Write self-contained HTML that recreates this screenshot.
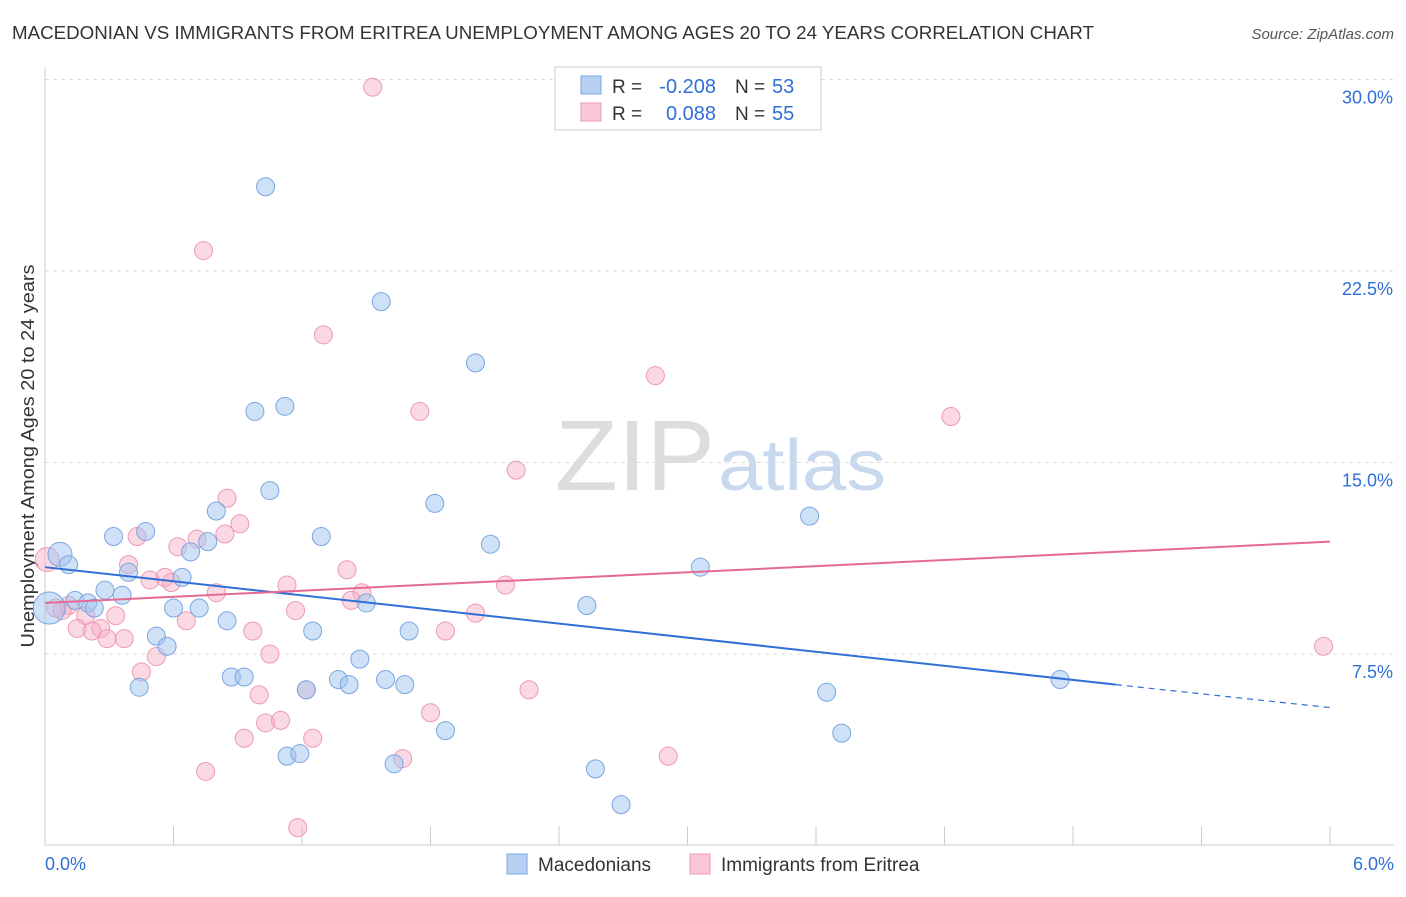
<!DOCTYPE html>
<html><head><meta charset="utf-8"><style>
body{margin:0;background:#fff;font-family:"Liberation Sans",sans-serif;}
svg text{font-family:"Liberation Sans",sans-serif;}
</style></head><body>
<svg id="c" width="1406" height="892" xmlns="http://www.w3.org/2000/svg">
<text x="12" y="39" font-size="18" fill="#333" textLength="1082" lengthAdjust="spacingAndGlyphs">MACEDONIAN VS IMMIGRANTS FROM ERITREA UNEMPLOYMENT AMONG AGES 20 TO 24 YEARS CORRELATION CHART</text>
<text x="1394" y="39" font-size="15" fill="#555" font-style="italic" text-anchor="end">Source: ZipAtlas.com</text>
<text x="555" y="490" font-size="100" fill="#ddd" textLength="160" lengthAdjust="spacingAndGlyphs" font-family="Liberation Serif">ZIP</text>
<text x="718" y="490" font-size="72" fill="#c8d8ee" textLength="168" lengthAdjust="spacingAndGlyphs">atlas</text>
<text transform="translate(34,456) rotate(-90)" font-size="18" fill="#333" text-anchor="middle" textLength="383" lengthAdjust="spacingAndGlyphs">Unemployment Among Ages 20 to 24 years</text>
<g id="grid"></g><g id="pts"></g><g id="lines"></g>
<g>
<rect x="555" y="67" width="266" height="63" fill="#fff" stroke="#ccc"/>
<rect x="581" y="76" width="20" height="18" fill="#b8d1f3" stroke="#7aa6e0"/>
<rect x="581" y="103" width="20" height="18" fill="#f9c7d6" stroke="#ee99b4"/>
<text x="612" y="93" font-size="19" fill="#333">R =</text>
<text x="716" y="93" font-size="20" fill="#2f6fd6" text-anchor="end">-0.208</text>
<text x="735" y="93" font-size="19" fill="#333">N =</text>
<text x="772" y="93" font-size="20" fill="#2f6fd6">53</text>
<text x="612" y="120" font-size="19" fill="#333">R =</text>
<text x="716" y="120" font-size="20" fill="#2f6fd6" text-anchor="end">0.088</text>
<text x="735" y="120" font-size="19" fill="#333">N =</text>
<text x="772" y="120" font-size="20" fill="#2f6fd6">55</text>
</g>
<g>
<rect x="507" y="854" width="20" height="20" fill="#b8d1f3" stroke="#7aa6e0"/>
<text x="538" y="871" font-size="19" fill="#333">Macedonians</text>
<rect x="690" y="854" width="20" height="20" fill="#f9c7d6" stroke="#ee99b4"/>
<text x="721" y="871" font-size="19" fill="#333">Immigrants from Eritrea</text>
</g>
</svg>
<script>
const xTicks=[0,1,2,3,4,5,6];
const yTicks=[7.5,15,22.5,30];
const yTickLabels=["7.5%","15.0%","22.5%","30.0%"];
const xTickLabels=["0.0%","6.0%"];
const macX=[1.03,1.57,2.01,0.98,1.12,1.05,1.82,3.57,0.8,0.47,0.32,1.29,2.08,0.76,0.68,0.07,0.11,3.06,0.39,0.64,0.28,0.36,0.14,0.2,0.23,2.53,1.5,0.6,0.72,0.02,0.85,1.25,1.7,0.52,0.57,1.47,0.44,0.87,0.93,1.37,1.42,1.59,1.68,1.22,3.65,4.74,1.87,3.72,1.13,1.19,1.63,2.57,2.69];
const macY=[25.8,21.3,18.9,17.0,17.2,13.9,13.4,12.9,13.1,12.3,12.1,12.1,11.8,11.9,11.5,11.4,11.0,10.9,10.7,10.5,10.0,9.8,9.6,9.5,9.3,9.4,9.5,9.3,9.3,9.3,8.8,8.4,8.4,8.2,7.8,7.3,6.2,6.6,6.6,6.5,6.3,6.5,6.3,6.1,6.0,6.5,4.5,4.4,3.5,3.6,3.2,3.0,1.6];
const macR=[9,9,9,9,9,9,9,9,9,9,9,9,9,9,9,12,9,9,9,9,9,9,9,9,9,9,9,9,9,16,9,9,9,9,9,9,9,9,9,9,9,9,9,9,9,9,9,9,9,9,9,9,9];
const eriX=[1.53,0.74,1.3,2.85,1.75,4.23,2.2,0.85,0.91,0.43,0.84,0.71,0.62,0.01,0.39,1.41,0.56,0.49,0.59,1.13,2.15,1.48,0.8,1.43,0.11,0.08,0.19,0.33,1.17,2.01,0.66,0.15,0.26,0.22,0.29,0.37,1.87,0.97,0.52,1.05,0.45,1.22,2.26,1.0,1.8,1.03,1.1,0.93,1.25,1.67,2.91,0.75,1.18,5.97,0.05];
const eriY=[29.7,23.3,20.0,18.4,17.0,16.8,14.7,13.6,12.6,12.1,12.2,12.0,11.7,11.2,11.0,10.8,10.5,10.4,10.3,10.2,10.2,9.9,9.9,9.6,9.4,9.2,9.0,9.0,9.2,9.1,8.8,8.5,8.5,8.4,8.1,8.1,8.4,8.4,7.4,7.5,6.8,6.1,6.1,5.9,5.2,4.8,4.9,4.2,4.2,3.4,3.5,2.9,0.7,7.8,9.3];
const eriR=[9,9,9,9,9,9,9,9,9,9,9,9,9,12,9,9,9,9,9,9,9,9,9,9,9,9,9,9,9,9,9,9,9,9,9,9,9,9,9,9,9,9,9,9,9,9,9,9,9,9,9,9,9,9,9];
const macLine=[[0,10.9],[5,6.3],[6,5.4]];
const eriLine=[[0,9.5],[6,11.9]];
const X=v=>45+v*1285/6, Y=v=>845.5-v*191.5/7.5;
const NS="http://www.w3.org/2000/svg";
function mk(p,t,a){const e=document.createElementNS(NS,t);for(const k in a)e.setAttribute(k,a[k]);p.appendChild(e);return e;}
const g=document.getElementById('grid');
yTicks.forEach((t,i)=>{const l=mk(g,'line',{x1:45,x2:1394,y1:Y(t),y2:Y(t),stroke:'#ddd','stroke-dasharray':'4,4'});


const tx=mk(g,'text',{x:1393,y:Y(t)+24,'font-size':18,fill:'#2f6fd6','text-anchor':'end'});tx.textContent=yTickLabels[i];

});
mk(g,'line',{x1:45,x2:45,y1:67,y2:845,stroke:'#ccc'});
mk(g,'line',{x1:45,x2:1394,y1:845,y2:845,stroke:'#ccc'});
for(let i=0;i<=10;i++){const xx=45+i*1285/10;mk(g,'line',{x1:xx,x2:xx,y1:826,y2:845,stroke:'#ccc'});}
xTickLabels.forEach((s,i)=>{const tx=mk(g,'text',{x:i?1394:45,y:870,'font-size':18,fill:'#2f6fd6','text-anchor':i?'end':'start'});tx.textContent=s;

});
const p=document.getElementById('pts');
eriX.forEach((v,i)=>{const c=mk(p,'circle',{cx:X(v),cy:Y(eriY[i]),r:eriR[i],fill:'rgba(246,170,196,0.45)',stroke:'#ee99b4','stroke-width':1});

});
macX.forEach((v,i)=>{const c=mk(p,'circle',{cx:X(v),cy:Y(macY[i]),r:macR[i],fill:'rgba(160,195,240,0.5)',stroke:'#7aa6e0','stroke-width':1});

});
const L=document.getElementById('lines');
let a=mk(L,'line',{x1:X(macLine[0][0]),y1:Y(macLine[0][1]),x2:X(macLine[1][0]),y2:Y(macLine[1][1]),stroke:'#2f6fd6','stroke-width':2});


a=mk(L,'line',{x1:X(macLine[1][0]),y1:Y(macLine[1][1]),x2:X(macLine[2][0]),y2:Y(macLine[2][1]),stroke:'#2f6fd6','stroke-width':1.2,'stroke-dasharray':'6,5'});


a=mk(L,'line',{x1:X(eriLine[0][0]),y1:Y(eriLine[0][1]),x2:X(eriLine[1][0]),y2:Y(eriLine[1][1]),stroke:'#e46a95','stroke-width':2});


</script>
</body></html>
